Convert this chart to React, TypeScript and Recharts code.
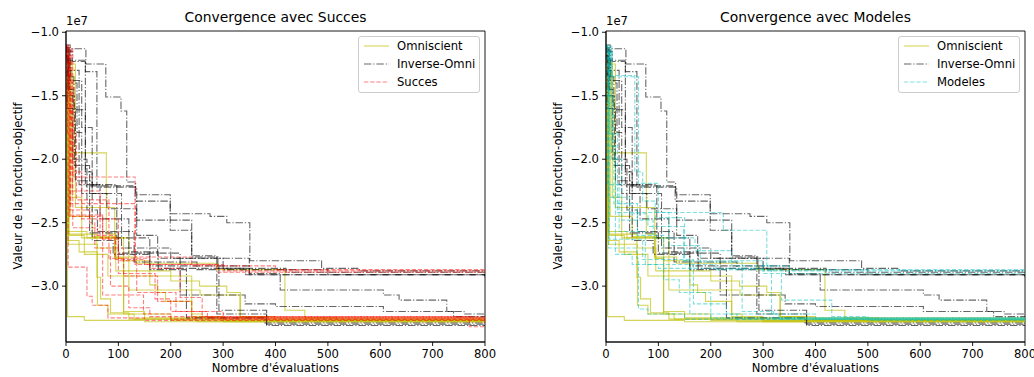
import React from 'react';
import { LineChart, Line, XAxis, YAxis, ReferenceArea } from 'recharts';

type Run = [number, number][];

// Best objective value found so far (units of 1e7) at each improving evaluation, one list per run.
const omniscientRuns: Run[] = [
  [[0, -1.2], [3, -3.24], [35, -3.27], [150, -3.28], [800, -3.29]],
  [[0, -1.3], [10, -1.95], [77, -2.59], [95, -2.78], [110, -3.22], [200, -3.27], [800, -3.28]],
  [[0, -1.25], [18, -2.38], [93, -2.77], [135, -2.82], [288, -2.87], [418, -3.19], [456, -3.25], [520, -3.27], [800, -3.28]],
  [[0, -1.15], [4, -2.59], [59, -2.93], [66, -3.1], [85, -3.21], [120, -3.26], [250, -3.28], [800, -3.29]],
  [[0, -1.35], [2, -2.64], [25, -2.73], [60, -3.15], [80, -3.22], [130, -3.26], [300, -3.28], [800, -3.28]],
  [[0, -1.22], [8, -2.45], [50, -2.61], [93, -2.78], [110, -3.2], [150, -3.25], [800, -3.27]],
  [[0, -1.28], [3, -2.57], [40, -2.62], [110, -2.8], [160, -2.99], [175, -3.05], [190, -3.12], [240, -3.24], [300, -3.27], [800, -3.28]],
  [[0, -1.18], [5, -2.67], [60, -2.7], [95, -2.88], [200, -2.96], [255, -3.0], [307, -3.05], [333, -3.24], [380, -3.27], [800, -3.28]],
  [[0, -1.4], [6, -2.6], [35, -2.75], [80, -2.92], [240, -3.22], [260, -3.26], [800, -3.28]],
  [[0, -1.24], [12, -2.3], [30, -2.62], [120, -3.03], [256, -3.07], [332, -3.24], [400, -3.27], [800, -3.29]],
];

const inverseOmniRuns: Run[] = [
  [[0, -1.1], [8, -1.13], [38, -1.25], [76, -1.51], [105, -1.62], [116, -2.18], [133, -2.28], [199, -2.43], [275, -2.45], [307, -2.5], [351, -2.8], [488, -2.86], [560, -2.88], [800, -2.88]],
  [[0, -1.15], [12, -1.23], [37, -1.31], [59, -2.22], [135, -2.48], [240, -2.77], [290, -2.86], [420, -2.89], [800, -2.9]],
  [[0, -1.12], [6, -1.22], [37, -2.21], [132, -2.33], [199, -2.56], [240, -2.76], [288, -2.85], [292, -3.19], [383, -3.31], [800, -3.31]],
  [[0, -1.18], [4, -1.4], [21, -1.79], [30, -2.27], [78, -2.39], [135, -2.6], [175, -2.78], [350, -2.9], [409, -3.03], [606, -3.07], [636, -3.11], [727, -3.2], [760, -3.22], [800, -3.22]],
  [[0, -1.13], [5, -1.5], [16, -2.05], [45, -2.58], [100, -2.74], [218, -3.07], [342, -3.14], [400, -3.16], [606, -3.2], [740, -3.24], [800, -3.24]],
  [[0, -1.2], [3, -1.35], [15, -1.61], [37, -2.1], [50, -2.64], [90, -2.75], [160, -2.84], [350, -2.91], [800, -2.92]],
  [[0, -1.11], [2, -1.6], [18, -2.17], [50, -2.27], [106, -2.7], [200, -2.78], [300, -2.87], [500, -2.91], [800, -2.93]],
  [[0, -1.16], [7, -1.45], [13, -2.0], [40, -2.4], [60, -2.57], [130, -2.81], [250, -2.87], [288, -3.22], [383, -3.3], [800, -3.32]],
  [[0, -1.14], [9, -1.38], [30, -1.75], [50, -2.2], [97, -2.62], [160, -2.87], [230, -3.25], [380, -3.29], [800, -3.31]],
  [[0, -1.19], [5, -1.3], [25, -2.2], [65, -2.47], [120, -2.73], [176, -2.86], [343, -2.91], [800, -2.92]],
];

const succesRuns: Run[] = [
  [[0, -1.1], [5, -1.4], [15, -2.14], [132, -2.77], [240, -2.84], [400, -2.87], [800, -2.87]],
  [[0, -1.12], [10, -1.7], [12, -2.25], [65, -2.62], [94, -2.79], [150, -2.83], [300, -2.88], [800, -2.88]],
  [[0, -1.15], [8, -2.35], [132, -2.83], [288, -2.89], [800, -2.89]],
  [[0, -1.11], [4, -2.85], [40, -3.08], [50, -3.15], [80, -3.25], [150, -3.27], [800, -3.29]],
  [[0, -1.18], [6, -2.45], [70, -3.07], [148, -3.22], [200, -3.26], [800, -3.28]],
  [[0, -1.13], [13, -2.54], [60, -2.6], [95, -2.7], [110, -2.92], [175, -3.12], [240, -3.25], [800, -3.27]],
  [[0, -1.2], [7, -2.44], [70, -2.63], [100, -2.9], [170, -3.1], [200, -3.2], [270, -3.25], [800, -3.28]],
  [[0, -1.14], [3, -1.8], [20, -2.32], [82, -2.78], [160, -2.86], [218, -3.09], [260, -3.24], [800, -3.3]],
  [[0, -1.16], [5, -1.45], [9, -2.4], [45, -2.5], [55, -2.7], [85, -3.0], [120, -3.17], [160, -3.24], [770, -3.32], [800, -3.33]],
  [[0, -1.12], [2, -1.6], [11, -2.1], [30, -2.47], [100, -2.8], [135, -3.05], [210, -3.2], [300, -3.26], [800, -3.27]],
];

const modelesRuns: Run[] = [
  [[0, -1.1], [11, -1.35], [62, -2.19], [100, -2.42], [224, -2.56], [307, -2.84], [350, -2.87], [800, -2.87]],
  [[0, -1.12], [8, -1.34], [55, -2.1], [70, -2.33], [94, -2.46], [150, -2.8], [300, -2.88], [800, -2.91]],
  [[0, -1.15], [5, -2.7], [59, -2.78], [62, -3.18], [80, -3.22], [150, -3.26], [800, -3.28]],
  [[0, -1.11], [4, -2.3], [45, -2.43], [80, -2.53], [148, -2.8], [160, -3.22], [250, -3.26], [800, -3.27]],
  [[0, -1.17], [6, -2.63], [70, -2.79], [167, -3.14], [230, -3.22], [330, -3.26], [800, -3.27]],
  [[0, -1.13], [10, -2.0], [30, -2.48], [90, -2.62], [170, -2.72], [240, -2.84], [316, -3.22], [400, -3.26], [800, -3.27]],
  [[0, -1.2], [3, -2.2], [25, -2.57], [75, -2.83], [210, -2.87], [335, -3.11], [431, -3.24], [500, -3.27], [800, -3.28]],
  [[0, -1.14], [7, -1.8], [22, -2.42], [120, -2.68], [180, -2.81], [260, -3.2], [320, -3.25], [800, -3.26]],
  [[0, -1.16], [12, -1.9], [18, -2.75], [50, -2.83], [100, -2.86], [300, -2.9], [800, -2.9]],
  [[0, -1.12], [5, -1.5], [15, -2.35], [60, -2.6], [110, -2.95], [140, -3.05], [200, -3.25], [800, -3.26]],
];

const xTicks = [0, 100, 200, 300, 400, 500, 600, 700, 800];
const yTicks = [-3.0, -2.5, -2.0, -1.5, -1.0];
const xDomain: [number, number] = [0, 800];
const yDomain: [number, number] = [-3.44, -0.99];

const FONT = "'DejaVu Sans', sans-serif";
const FS = 11.6;

const OMNI = { name: 'Omniscient', color: '#bfbf00', opacity: 0.65, dash: undefined as string | undefined };
const INVERSE = { name: 'Inverse-Omni', color: '#000000', opacity: 0.6, dash: '7.4 1.9 1.2 1.9' };
const SUCCES = { name: 'Succes', color: '#ff0000', opacity: 0.5, dash: '4.3 1.9' };
const MODELES = { name: 'Modeles', color: '#00bfbf', opacity: 0.5, dash: '4.3 1.9' };

type Style = typeof OMNI;

const fmtY = (v: number) => (v < 0 ? '\u2212' : '') + Math.abs(v).toFixed(1);
const toPoints = (run: Run) => run.map(([x, y]) => ({ x, y }));

function seriesLines(runs: Run[], s: Style, prefix: string) {
  return runs.map((run, i) => (
    <Line
      key={prefix + i}
      data={toPoints(run)}
      dataKey="y"
      type="stepAfter"
      stroke={s.color}
      strokeOpacity={s.opacity}
      strokeWidth={1.1}
      strokeDasharray={s.dash}
      dot={false}
      activeDot={false}
      isAnimationActive={false}
      legendType="none"
    />
  ));
}

function LegendBox({ items }: { items: Style[] }) {
  return (
    <div
      style={{
        position: 'absolute',
        left: 358,
        top: 36,
        width: 120,
        height: 55,
        border: '1px solid #cccccc',
        borderRadius: 3,
        background: 'rgba(255,255,255,0.8)',
        fontFamily: FONT,
        fontSize: FS,
      }}
    >
      {items.map((it) => (
        <div key={it.name} style={{ height: 18, marginTop: 0, display: 'flex', alignItems: 'center', paddingLeft: 4 }}>
          <svg width={26} height={16} style={{ display: 'block' }}>
            <line x1={1} y1={8} x2={26} y2={8} stroke={it.color} strokeOpacity={it.opacity} strokeWidth={1.1} strokeDasharray={it.dash} />
          </svg>
          <span style={{ marginLeft: 8, whiteSpace: 'nowrap', color: '#000' }}>{it.name}</span>
        </div>
      ))}
    </div>
  );
}

function Panel({ left, width, title, method, runs }: { left: number; width: number; title: string; method: Style; runs: Run[] }) {
  const plotLeft = 66;
  const plotRight = 485;
  const tickStyle = { fill: '#000', fontSize: FS, fontFamily: FONT };
  return (
    <div style={{ position: 'absolute', left, top: 0, width, height: 377 }}>
      <LineChart width={width} height={377} margin={{ top: 31, right: width - plotRight, bottom: 5, left: 10 }}>
        <XAxis
          dataKey="x"
          type="number"
          domain={xDomain}
          ticks={xTicks}
          allowDataOverflow
          height={30}
          tickSize={4}
          tickMargin={4}
          stroke="#000"
          axisLine={{ stroke: '#000', strokeWidth: 0.9 }}
          tickLine={{ stroke: '#000', strokeWidth: 0.9 }}
          tick={tickStyle}
        />
        <YAxis
          type="number"
          domain={yDomain}
          ticks={yTicks}
          allowDataOverflow
          width={56}
          tickSize={4}
          tickMargin={3}
          tickFormatter={fmtY}
          stroke="#000"
          axisLine={{ stroke: '#000', strokeWidth: 0.9 }}
          tickLine={{ stroke: '#000', strokeWidth: 0.9 }}
          tick={tickStyle}
        />
        {seriesLines(omniscientRuns, OMNI, 'o')}
        {seriesLines(inverseOmniRuns, INVERSE, 'i')}
        {seriesLines(runs, method, 'm')}
        {/* axes frame */}
        <ReferenceArea x1={xDomain[0]} x2={xDomain[1]} y1={yDomain[0]} y2={yDomain[1]} fill="none" fillOpacity={0} stroke="#000" strokeWidth={0.9} ifOverflow="visible" />
      </LineChart>
      <div style={{ position: 'absolute', left: plotLeft, width: plotRight - plotLeft, top: 9, lineHeight: '17px', textAlign: 'center', fontFamily: FONT, fontSize: 13.9, color: '#000' }}>
        {title}
      </div>
      <div style={{ position: 'absolute', left: plotLeft, top: 14, lineHeight: '14px', fontFamily: FONT, fontSize: FS, color: '#000' }}>1e7</div>
      <div style={{ position: 'absolute', left: plotLeft, width: plotRight - plotLeft, top: 361, lineHeight: '15px', textAlign: 'center', fontFamily: FONT, fontSize: FS, color: '#000' }}>
        Nombre d'évaluations
      </div>
      <div
        style={{
          position: 'absolute',
          left: 17.5 - 110,
          top: 186 - 8,
          width: 220,
          height: 16,
          lineHeight: '16px',
          textAlign: 'center',
          transform: 'rotate(-90deg)',
          fontFamily: FONT,
          fontSize: FS,
          color: '#000',
          whiteSpace: 'nowrap',
        }}
      >
        Valeur de la fonction-objectif
      </div>
      <LegendBox items={[OMNI, INVERSE, method]} />
    </div>
  );
}

export default function App() {
  return (
    <div style={{ position: 'fixed', left: 0, top: 0, width: 1034, height: 377, background: '#fff', overflow: 'hidden' }}>
      <Panel left={0} width={520} title="Convergence avec Succes" method={SUCCES} runs={succesRuns} />
      <Panel left={540} width={494} title="Convergence avec Modeles" method={MODELES} runs={modelesRuns} />
    </div>
  );
}
